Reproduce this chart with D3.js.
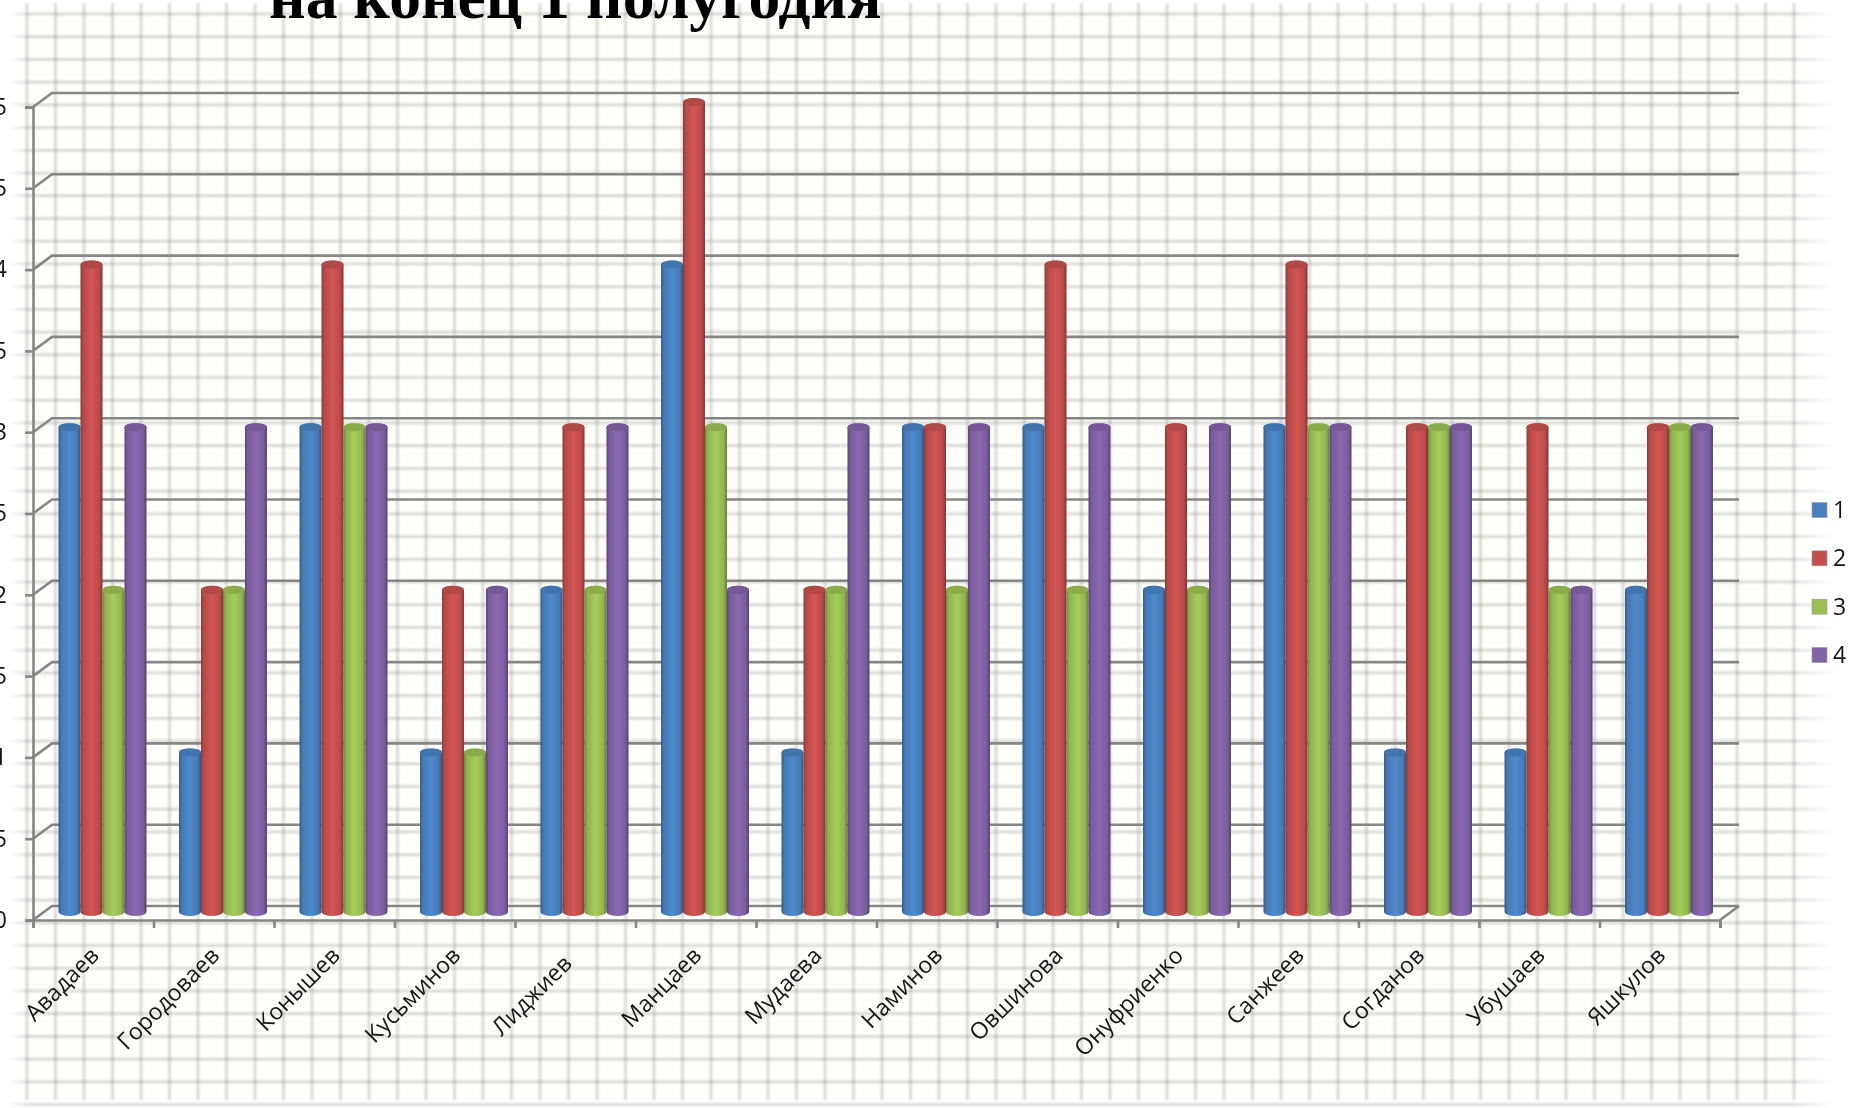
<!DOCTYPE html>
<html>
<head>
<meta charset="utf-8">
<script src="https://cdn.jsdelivr.net/npm/d3@7"></script>
<style>
  html, body { margin: 0; padding: 0; background: #fff; overflow: hidden; }
  svg { display: block; }
  text { font-family: "Open Sans", "Noto Sans", sans-serif; fill: #141414; }
  .title { font-family: "Liberation Serif", serif; font-weight: bold; font-size: 63.6px; fill: #000; }
</style>
</head>
<body>
<script>
const categories = ["Авадаев", "Городоваев", "Конышев", "Кусьминов", "Лиджиев", "Манцаев", "Мудаева",
  "Наминов", "Овшинова", "Онуфриенко", "Санжеев", "Согданов", "Убушаев", "Яшкулов"];
const series1 = [3, 1, 3, 1, 2, 4, 1, 3, 3, 2, 3, 1, 1, 2];
const series2 = [4, 2, 4, 2, 3, 5, 2, 3, 4, 3, 4, 3, 3, 3];
const series3 = [2, 2, 3, 1, 2, 3, 2, 2, 2, 2, 3, 3, 2, 3];
const series4 = [3, 3, 3, 2, 3, 2, 3, 3, 3, 3, 3, 3, 2, 3];
const seriesNames = ["1", "2", "3", "4"];
const seriesValues = [series1, series2, series3, series4];
const seriesColors = ["#4a81c0", "#c5504e", "#9bbf55", "#8163a6"];
const yTicks = [0, 0.5, 1, 1.5, 2, 2.5, 3, 3.5, 4, 4.5, 5];

const W = 1850, H = 1108;
const plot = {left: 33, right: 1720, top: 107, bottom: 920};
const depth = {x: 19, y: -14};
const barShift = {x: 9.25, y: -5};
const labelNudge = {"Лиджиев": [-9, 8]}; // this one sits off the regular spot in the scan

const svg = d3.select("body").append("svg").attr("width", W).attr("height", H);
const defs = svg.append("defs");

defs.append("filter").attr("id", "paperBlur")
  .attr("x", 0).attr("y", 0).attr("width", W).attr("height", H)
  .attr("filterUnits", "userSpaceOnUse")
  .append("feGaussianBlur").attr("stdDeviation", 1.2);
defs.append("filter").attr("id", "soft")
  .attr("x", 0).attr("y", 0).attr("width", W).attr("height", H)
  .attr("filterUnits", "userSpaceOnUse")
  .append("feGaussianBlur").attr("stdDeviation", 0.65);

// graph paper the chart was photographed on
const hFade = defs.append("linearGradient").attr("id", "hFade")
  .attr("gradientUnits", "userSpaceOnUse")
  .attr("x1", 8).attr("x2", 1835).attr("y1", 0).attr("y2", 0);
[[0, 0], [0.012, 1], [0.975, 1], [1, 0]].forEach(function(d) {
  hFade.append("stop").attr("offset", d[0]).attr("stop-color", "#808080").attr("stop-opacity", d[1] * 0.32);
});

svg.append("rect").attr("x", 24).attr("y", 8).attr("width", 1772).attr("height", 1092).attr("fill", "#fefefa");

const paper = svg.append("g").attr("filter", "url(#paperBlur)");
const paperX = d3.range(27, 1800, 28.5);
const paperY = d3.range(14, 1106, 22.72);
paper.selectAll(".paperH").data(paperY).enter().append("rect")
  .attr("class", "paperH")
  .attr("x", 8).attr("width", 1827)
  .attr("y", function(d) { return d - 1.3; }).attr("height", 2.6)
  .attr("fill", "url(#hFade)");
paper.selectAll(".paperV").data(paperX).enter().append("line")
  .attr("class", "paperV")
  .attr("x1", function(d) { return d; }).attr("x2", function(d) { return d; })
  .attr("y1", 3).attr("y2", 1100)
  .attr("stroke", "#808080").attr("stroke-opacity", 0.32).attr("stroke-width", 2.6);

// scales
const x = d3.scaleBand().domain(categories).range([plot.left, plot.right])
  .paddingInner(0.27).paddingOuter(0.135);
const xSeries = d3.scaleBand().domain(seriesNames).range([0, x.bandwidth()]);
const xEdges = d3.scaleLinear().domain([0, categories.length]).range([plot.left, plot.right]);
const y = d3.scaleLinear().domain([0, 5]).range([plot.bottom, plot.top]);

const chart = svg.append("g").attr("filter", "url(#soft)");
const axisColor = "#868686";

// back wall and side wall gridlines
chart.selectAll(".wall").data(yTicks).enter().append("path")
  .attr("class", "wall")
  .attr("fill", "none").attr("stroke", axisColor).attr("stroke-width", 2.6)
  .attr("d", function(d) {
    return "M" + plot.left + "," + y(d) +
      "L" + (plot.left + depth.x) + "," + (y(d) + depth.y) +
      "L" + (plot.right + depth.x) + "," + (y(d) + depth.y);
  });
chart.append("line")
  .attr("stroke", axisColor).attr("stroke-width", 2.6)
  .attr("x1", plot.right).attr("y1", y(0))
  .attr("x2", plot.right + depth.x).attr("y2", y(0) + depth.y);

// axes
const yAxis = d3.axisLeft(y).tickValues(yTicks).tickSize(8).tickPadding(18)
  .tickFormat(function(d) { return String(d).replace(".", ","); });
const yG = chart.append("g").attr("transform", "translate(" + plot.left + ",0)").call(yAxis);
const xAxis = d3.axisBottom(xEdges).tickValues(d3.range(0, categories.length + 1)).tickSize(8)
  .tickFormat("");
const xG = chart.append("g").attr("transform", "translate(0," + plot.bottom + ")").call(xAxis);
[yG, xG].forEach(function(g) {
  g.selectAll(".domain, line").attr("stroke", axisColor).attr("stroke-width", 2.6);
  g.selectAll("text").style("font-size", "23px");
});

// cylinders
seriesColors.forEach(function(c, i) {
  const base = d3.color(c);
  const grad = defs.append("linearGradient").attr("id", "cyl" + i);
  [[0, base.darker(1)], [0.12, base.darker(0.2)], [0.5, base.brighter(0.2)], [0.85, base.darker(0.15)], [1, base.darker(1.2)]]
    .forEach(function(s) { grad.append("stop").attr("offset", s[0]).attr("stop-color", s[1]); });
});

const barsG = chart.append("g").attr("transform", "translate(" + barShift.x + "," + barShift.y + ")");
const ry = 4;
const baseY = y(0) - 3;
seriesValues.forEach(function(values, s) {
  const group = barsG.append("g").attr("class", "series" + s);
  const bw = xSeries.bandwidth();
  const cell = group.selectAll("g").data(values).enter().append("g")
    .attr("transform", function(d, i) {
      return "translate(" + (x(categories[i]) + xSeries(seriesNames[s])) + ",0)";
    });
  cell.append("path")
    .attr("fill", "url(#cyl" + s + ")")
    .attr("d", function(d) {
      return "M0," + y(d) + "L0," + baseY +
        "A" + bw / 2 + "," + ry + " 0 0 0 " + bw + "," + baseY +
        "L" + bw + "," + y(d) +
        "A" + bw / 2 + "," + ry + " 0 0 0 0," + y(d) + "Z";
    });
  cell.append("ellipse")
    .attr("cx", bw / 2).attr("cy", function(d) { return y(d); })
    .attr("rx", bw / 2).attr("ry", ry)
    .attr("fill", d3.color(seriesColors[s]).darker(0.3));
});

// category labels
chart.selectAll(".cat").data(categories).enter().append("text")
  .attr("class", "cat")
  .attr("text-anchor", "end")
  .style("font-size", "23px")
  .attr("transform", function(d) {
    const nudge = labelNudge[d] || [0, 0];
    return "translate(" + (x(d) + x.bandwidth() / 2 + 7 + nudge[0]) + "," + (957 + nudge[1]) + ")rotate(-45)";
  })
  .text(function(d) { return d; });

// legend
const legendY = d3.scalePoint().domain(seriesNames).range([510, 655]);
const legend = chart.selectAll(".legend").data(seriesNames).enter().append("g")
  .attr("class", "legend")
  .attr("transform", function(d) { return "translate(1812," + legendY(d) + ")"; });
legend.append("rect").attr("x", 0).attr("y", -7.5).attr("width", 15).attr("height", 15)
  .attr("fill", function(d, i) { return seriesColors[i]; })
  .attr("stroke", "#9a9a9a").attr("stroke-width", 0.6);
legend.append("text").attr("x", 21).attr("y", 8).style("font-size", "23px")
  .text(function(d) { return d; });

// title, cut off by the top of the scan
svg.append("text").attr("class", "title").attr("x", 269).attr("y", 18)
  .text("на конец 1 полугодия");
</script>
</body>
</html>
